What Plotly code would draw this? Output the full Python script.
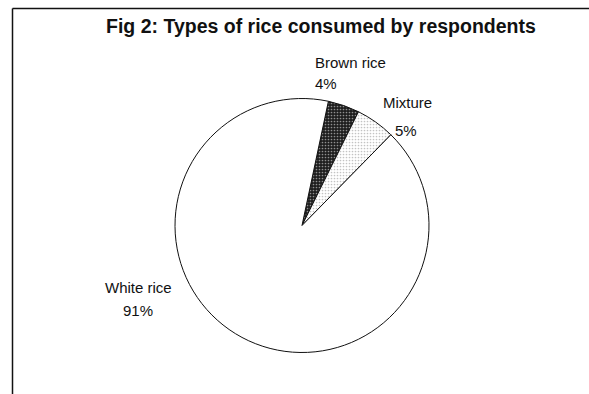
import plotly.graph_objects as go

categories = ["Brown rice", "Mixture", "White rice"]
values = [4, 5, 91]
pct_labels = ["4%", "5%", "91%"]
title_text = "Fig 2: Types of rice consumed by respondents"

W, H = 589, 394
cx, cy, r = 302, 225.5, 127

fig = go.Figure()
fig.add_trace(go.Pie(
    labels=categories,
    values=values,
    sort=False,
    direction="clockwise",
    rotation=12,
    textinfo="none",
    hoverinfo="label+percent",
    showlegend=False,
    marker=dict(
        colors=["#1e1e1e", "#ffffff", "#ffffff"],
        line=dict(color="#111111", width=1),
        pattern=dict(
            shape=[".", ".", ""],
            fgcolor=["#ffffff", "#888888", "#ffffff"],
            size=3,
            solidity=0.25,
            fillmode="overlay",
        ),
    ),
    domain=dict(x=[(cx - r) / W, (cx + r) / W], y=[1 - (cy + r) / H, 1 - (cy - r) / H]),
))

font = dict(family="Liberation Sans, Arial, sans-serif", size=15, color="#111111")
def px(x):
    return x / W
def py(y):
    return 1 - y / H

annotations = [
    dict(text=f"<b>{title_text}</b>", x=px(320.5), y=py(26), xanchor="center", yanchor="middle",
         font=dict(family="Liberation Sans, Arial, sans-serif", size=19.5, color="#111111")),
    dict(text=categories[0], x=px(313), y=py(62), xanchor="left", yanchor="middle", font=font),
    dict(text=pct_labels[0], x=px(313), y=py(83), xanchor="left", yanchor="middle", font=font),
    dict(text=categories[1], x=px(407), y=py(102), xanchor="center", yanchor="middle", font=font),
    dict(text=pct_labels[1], x=px(406), y=py(130), xanchor="center", yanchor="middle", font=font),
    dict(text=categories[2], x=px(138), y=py(287), xanchor="center", yanchor="middle", font=font),
    dict(text=pct_labels[2], x=px(138), y=py(310), xanchor="center", yanchor="middle", font=font),
]
for a in annotations:
    a.update(xref="paper", yref="paper", showarrow=False)

shapes = [
    dict(type="line", xref="paper", yref="paper", x0=px(12.5), x1=1, y0=py(8.5), y1=py(8.5),
         line=dict(color="#111111", width=1.5)),
    dict(type="line", xref="paper", yref="paper", x0=px(12.5), x1=px(12.5), y0=0, y1=py(8.5),
         line=dict(color="#111111", width=1.5)),
]

fig.update_layout(
    width=W, height=H,
    margin=dict(l=0, r=0, t=0, b=0),
    paper_bgcolor="white",
    plot_bgcolor="white",
    annotations=annotations,
    shapes=shapes,
)

fig.write_html("out.html")
